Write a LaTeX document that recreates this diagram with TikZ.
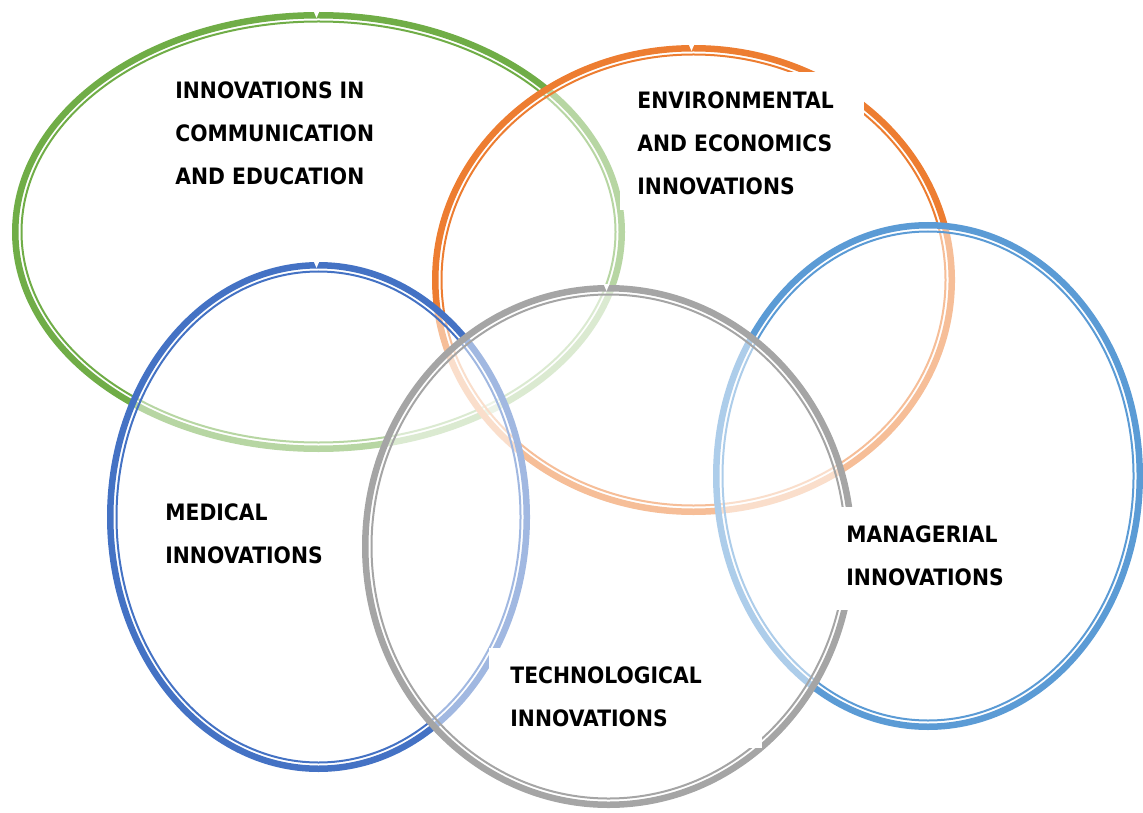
\documentclass[tikz,border=0pt]{standalone}
\usepackage{fontspec}
\newfontfamily\boxfont[FakeStretch=0.9]{DejaVu Sans}
\definecolor{ringgreen}{HTML}{70AD47}
\definecolor{ringorange}{HTML}{ED7D31}
\definecolor{ringblue}{HTML}{4472C4}
\definecolor{ringsky}{HTML}{5B9BD5}
\definecolor{ringgray}{HTML}{A5A5A5}
\tikzset{
  boxtext/.style={anchor=north west, inner sep=0pt, align=left,
    font=\boxfont\bfseries\fontsize{11.3}{21.5}\selectfont},
  blank/.style={fill=white},
}
\begin{document}
\begin{tikzpicture}[x=0.5pt, y=-0.5pt, line join=round, line cap=round]
  \useasboundingbox (0,0) rectangle (1143,812);
  % rings: centre, outer radii, colour -- each one veils the ones drawn before
  \foreach \cx/\cy/\rx/\ry/\col/\nt in {318.5/232/306.5/220/ringgreen/1,
      693.5/280/261.5/235/ringorange/1, 318.5/517/211.5/255/ringblue/1,
      928/476/215/254/ringsky/0, 608.5/546.5/246.5/261.5/ringgray/1}
  {
    \pgfmathsetmacro\ax{\rx-3.25}
    \pgfmathsetmacro\ay{\ry-3.25}
    \pgfmathsetmacro\bx{\rx-9.5}
    \pgfmathsetmacro\by{\ry-9.5}
    \fill[white, fill opacity=0.5] (\cx,\cy) ellipse [x radius=\ax, y radius=\ay];
    \draw[\col, line width=3.25pt] (\cx,\cy) ellipse [x radius=\ax, y radius=\ay];
    \draw[\col, line width=1pt] (\cx,\cy) ellipse [x radius=\bx, y radius=\by];
    % small notch where the ring closes
    \ifnum\nt=1
      \pgfmathsetmacro\ty{\cy-\ry}
      \fill[white] (\cx-5,\ty-1) -- (\cx+1,\ty-1) -- (\cx-2,\ty+6) -- cycle;
    \fi
  }
  % text boxes cover the rings
  \fill[blank] (620,72) rectangle (864,210);
  \fill[blank] (836,507) rectangle (1015,610);
  \fill[blank] (489,648) rectangle (762,748);
  \node[boxtext] (comm) at (175,81) {INNOVATIONS IN\\COMMUNICATION\\AND EDUCATION};
  \node[boxtext] (envi) at (637,91) {ENVIRONMENTAL\\AND ECONOMICS\\INNOVATIONS};
  \node[boxtext] (medi) at (165,503) {MEDICAL\\INNOVATIONS};
  \node[boxtext] (mana) at (846,525) {MANAGERIAL\\INNOVATIONS};
  \node[boxtext] (tech) at (510,666) {TECHNOLOGICAL\\INNOVATIONS};
\end{tikzpicture}
\end{document}
